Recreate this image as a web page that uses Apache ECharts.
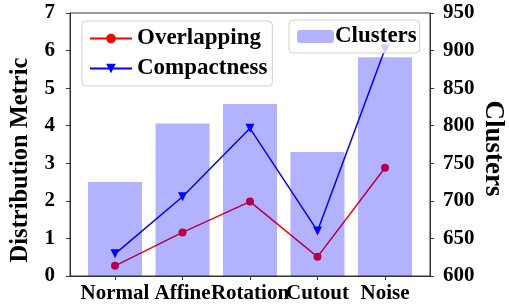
<!DOCTYPE html>
<html>
<head>
<meta charset="utf-8">
<script src="https://cdn.jsdelivr.net/npm/echarts@6/dist/echarts.min.js"></script>
<style>html,body{margin:0;padding:0;background:#fff}#c{width:509px;height:304px}</style>
</head>
<body>
<div id="c"></div>
<script>
var categories = ['Normal', 'Affine', 'Rotation', 'Cutout', 'Noise'];
var overlapping = [0.27, 1.16, 1.98, 0.51, 2.88];
var compactness = [0.59, 2.11, 3.93, 1.20, 6.04];
var clusters = [725, 803, 829, 765, 891];
var leftTicks = [0, 1, 2, 3, 4, 5, 6, 7];
var rightTicks = [600, 650, 700, 750, 800, 850, 900, 950];

var FONT = 'Liberation Serif';
function pts(arr) { return arr.map(function (v, i) { return [i, v]; }); }
var idx = categories.map(function (c, i) { return i; });

var chart = echarts.init(document.getElementById('c'));
chart.setOption({
  animation: false,
  textStyle: { fontFamily: FONT },
  grid: { left: 70, right: 79, top: 13, bottom: 28, outerBoundsMode: 'none', containLabel: false,
    show: true, borderColor: '#333', borderWidth: 1, backgroundColor: 'transparent' },
  legend: [
    {
      data: ['Overlapping', 'Compactness'],
      orient: 'vertical', left: 82, top: 21,
      padding: [6, 5, 6, 7], itemGap: 7, itemWidth: 42, itemHeight: 12,
      backgroundColor: 'rgba(255,255,255,0.8)', borderColor: '#d0d0d0', borderWidth: 1, borderRadius: 4,
      textStyle: { fontFamily: FONT, fontWeight: 'bold', fontSize: 23, color: '#000', padding: [0, 0, 0, 0] }
    },
    {
      data: ['Clusters'],
      orient: 'vertical', left: 289, top: 20,
      padding: [5, 3, 5, 8], itemWidth: 37, itemHeight: 13,
      backgroundColor: 'rgba(255,255,255,0.8)', borderColor: '#d0d0d0', borderWidth: 1, borderRadius: 4,
      textStyle: { fontFamily: FONT, fontWeight: 'bold', fontSize: 23, color: '#000', padding: [0, 0, 0, -4] }
    }
  ],
  xAxis: {
    type: 'value', min: -2 / 3, max: 14 / 3,
    splitLine: { show: false },
    axisLine: { show: true, onZero: false, lineStyle: { color: '#333' } },
    axisTick: { show: true, customValues: idx, length: 4, lineStyle: { color: '#333' } },
    axisLabel: {
      customValues: idx, margin: 7, hideOverlap: false,
      formatter: function (v) { return categories[Math.round(v)]; },
      fontFamily: FONT, fontWeight: 'bold', fontSize: 21, color: '#000'
    }
  },
  yAxis: [
    {
      type: 'value', min: 0, max: 7, interval: 1, position: 'left',
      name: 'Distribution Metric', nameLocation: 'middle', nameGap: 35,
      nameTextStyle: { fontFamily: FONT, fontWeight: 'bold', fontSize: 24.5, color: '#000', padding: [0, 31, 0, 0] },
      splitLine: { show: false },
      axisLine: { show: true, onZero: false, lineStyle: { color: '#333' } },
      axisTick: { show: true, length: 4, lineStyle: { color: '#333' } },
      axisLabel: { fontFamily: FONT, fontWeight: 'bold', fontSize: 21, color: '#000', margin: 15,
        formatter: function (v) { return leftTicks.indexOf(v) >= 0 ? String(v) : ''; } }
    },
    {
      type: 'value', min: 600, max: 950, interval: 50, position: 'right',
      name: 'Clusters', nameLocation: 'middle', nameGap: 49, nameRotate: -90, nameMoveOverlap: false,
      nameTextStyle: { fontFamily: FONT, fontWeight: 'bold', fontSize: 27, color: '#000', padding: [0, 0, 0, 8] },
      splitLine: { show: false },
      axisLine: { show: true, onZero: false, lineStyle: { color: '#333' } },
      axisTick: { show: true, length: 4, lineStyle: { color: '#333' } },
      axisLabel: { fontFamily: FONT, fontWeight: 'bold', fontSize: 21, color: '#000', margin: 13,
        formatter: function (v) { return rightTicks.indexOf(v) >= 0 ? String(v) : ''; } }
    }
  ],
  series: [
    {
      name: 'Overlapping', type: 'line', yAxisIndex: 0, data: pts(overlapping),
      symbol: 'circle', symbolSize: 8,
      itemStyle: { color: '#ff0000' }, lineStyle: { color: '#ff0000', width: 1.5 }, z: 2
    },
    {
      name: 'Compactness', type: 'line', yAxisIndex: 0, data: pts(compactness),
      symbol: 'triangle', symbolRotate: 180, symbolSize: 9,
      itemStyle: { color: '#0000ff' }, lineStyle: { color: '#0000ff', width: 1.5 }, z: 2
    },
    {
      name: 'Clusters', type: 'bar', yAxisIndex: 1, data: pts(clusters), barWidth: 54,
      itemStyle: { color: 'rgba(0,0,255,0.3)' }, z: 3
    }
  ]
});
</script>
</body>
</html>
